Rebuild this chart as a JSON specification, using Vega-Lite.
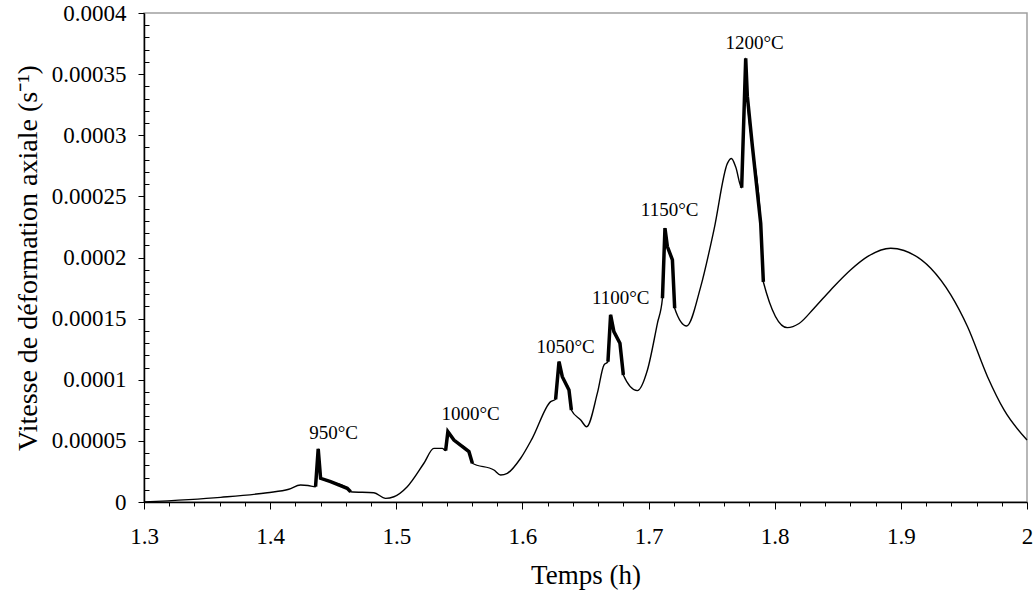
{
  "$schema": "https://vega.github.io/schema/vega-lite/v6.json",
  "width": 883,
  "height": 489,
  "autosize": {"type": "none"},
  "padding": {"left": 144, "top": 13, "right": 8, "bottom": 97},
  "background": "white",
  "config": {
    "view": {"stroke": "#a0a0a0", "strokeWidth": 1.5},
    "font": "Liberation Serif"
  },
  "datasets": {
    "curve": [
      {"t": 1.3, "v": 0.0},
      {"t": 1.3607, "v": 0.38e-5},
      {"t": 1.3977, "v": 0.76e-5},
      {"t": 1.4148, "v": 1.04e-5},
      {"t": 1.4241, "v": 1.39e-5},
      {"t": 1.43, "v": 1.35e-5},
      {"t": 1.436, "v": 1.25e-5},
      {"t": 1.4381, "v": 4.34e-5},
      {"t": 1.44, "v": 1.94e-5},
      {"t": 1.4479, "v": 1.66e-5},
      {"t": 1.4611, "v": 1.12e-5},
      {"t": 1.4638, "v": 0.84e-5},
      {"t": 1.4822, "v": 0.76e-5},
      {"t": 1.4915, "v": 0.30e-5},
      {"t": 1.4981, "v": 0.43e-5},
      {"t": 1.5087, "v": 1.25e-5},
      {"t": 1.5219, "v": 3.17e-5},
      {"t": 1.5298, "v": 4.39e-5},
      {"t": 1.5365, "v": 4.39e-5},
      {"t": 1.5391, "v": 4.20e-5},
      {"t": 1.5409, "v": 5.75e-5},
      {"t": 1.5457, "v": 5.07e-5},
      {"t": 1.5576, "v": 4.12e-5},
      {"t": 1.5603, "v": 3.17e-5},
      {"t": 1.5774, "v": 2.62e-5},
      {"t": 1.5827, "v": 2.21e-5},
      {"t": 1.588, "v": 2.35e-5},
      {"t": 1.5986, "v": 3.58e-5},
      {"t": 1.6078, "v": 5.21e-5},
      {"t": 1.6224, "v": 8.21e-5},
      {"t": 1.6263, "v": 8.40e-5},
      {"t": 1.629, "v": 11.48e-5},
      {"t": 1.6316, "v": 10.25e-5},
      {"t": 1.6369, "v": 9.17e-5},
      {"t": 1.6388, "v": 7.53e-5},
      {"t": 1.6462, "v": 6.71e-5},
      {"t": 1.6509, "v": 6.16e-5},
      {"t": 1.6594, "v": 8.9e-5},
      {"t": 1.6646, "v": 11.2e-5},
      {"t": 1.6678, "v": 11.48e-5},
      {"t": 1.6699, "v": 15.3e-5},
      {"t": 1.6725, "v": 13.94e-5},
      {"t": 1.6773, "v": 12.98e-5},
      {"t": 1.68, "v": 10.39e-5},
      {"t": 1.6911, "v": 9.11e-5},
      {"t": 1.6991, "v": 10.8e-5},
      {"t": 1.707, "v": 14.62e-5},
      {"t": 1.711, "v": 16.67e-5},
      {"t": 1.713, "v": 22.4e-5},
      {"t": 1.7149, "v": 20.9e-5},
      {"t": 1.7189, "v": 19.8e-5},
      {"t": 1.7207, "v": 15.85e-5},
      {"t": 1.7302, "v": 14.4e-5},
      {"t": 1.7413, "v": 17.6e-5},
      {"t": 1.7519, "v": 22.3e-5},
      {"t": 1.7625, "v": 27.7e-5},
      {"t": 1.7657, "v": 28.1e-5},
      {"t": 1.7691, "v": 27.4e-5},
      {"t": 1.7738, "v": 25.7e-5},
      {"t": 1.777, "v": 36.3e-5},
      {"t": 1.7783, "v": 33.2e-5},
      {"t": 1.7823, "v": 29.1e-5},
      {"t": 1.7889, "v": 22.8e-5},
      {"t": 1.791, "v": 18.0e-5},
      {"t": 1.81, "v": 14.26e-5},
      {"t": 1.8193, "v": 14.6e-5},
      {"t": 1.8312, "v": 15.85e-5},
      {"t": 1.8444, "v": 17.35e-5},
      {"t": 1.8603, "v": 19.0e-5},
      {"t": 1.8735, "v": 20.07e-5},
      {"t": 1.892, "v": 20.76e-5},
      {"t": 1.9025, "v": 20.57e-5},
      {"t": 1.9237, "v": 19.12e-5},
      {"t": 1.9396, "v": 16.94e-5},
      {"t": 1.9528, "v": 14.35e-5},
      {"t": 1.9687, "v": 10.25e-5},
      {"t": 1.9818, "v": 7.53e-5},
      {"t": 2.0, "v": 5.07e-5}
    ],
    "thick": [
      {"seg": "950", "t": 1.436, "v": 1.25e-5},
      {"seg": "950", "t": 1.4381, "v": 4.34e-5},
      {"seg": "950", "t": 1.44, "v": 1.94e-5},
      {"seg": "950", "t": 1.4479, "v": 1.66e-5},
      {"seg": "950", "t": 1.4611, "v": 1.12e-5},
      {"seg": "950", "t": 1.4638, "v": 0.84e-5},
      {"seg": "1000", "t": 1.5391, "v": 4.20e-5},
      {"seg": "1000", "t": 1.5409, "v": 5.75e-5},
      {"seg": "1000", "t": 1.5457, "v": 5.07e-5},
      {"seg": "1000", "t": 1.5576, "v": 4.12e-5},
      {"seg": "1000", "t": 1.5603, "v": 3.17e-5},
      {"seg": "1050", "t": 1.6263, "v": 8.40e-5},
      {"seg": "1050", "t": 1.629, "v": 11.48e-5},
      {"seg": "1050", "t": 1.6316, "v": 10.25e-5},
      {"seg": "1050", "t": 1.6369, "v": 9.17e-5},
      {"seg": "1050", "t": 1.6388, "v": 7.53e-5},
      {"seg": "1100", "t": 1.6678, "v": 11.48e-5},
      {"seg": "1100", "t": 1.6699, "v": 15.3e-5},
      {"seg": "1100", "t": 1.6725, "v": 13.94e-5},
      {"seg": "1100", "t": 1.6773, "v": 12.98e-5},
      {"seg": "1100", "t": 1.68, "v": 10.39e-5},
      {"seg": "1150", "t": 1.711, "v": 16.67e-5},
      {"seg": "1150", "t": 1.713, "v": 22.4e-5},
      {"seg": "1150", "t": 1.7149, "v": 20.9e-5},
      {"seg": "1150", "t": 1.7189, "v": 19.8e-5},
      {"seg": "1150", "t": 1.7207, "v": 15.85e-5},
      {"seg": "1200", "t": 1.7738, "v": 25.7e-5},
      {"seg": "1200", "t": 1.777, "v": 36.3e-5},
      {"seg": "1200", "t": 1.7783, "v": 33.2e-5},
      {"seg": "1200", "t": 1.7823, "v": 29.1e-5},
      {"seg": "1200", "t": 1.7889, "v": 22.8e-5},
      {"seg": "1200", "t": 1.791, "v": 18.0e-5}
    ],
    "labels": [
      {"label": "950°C", "t": 1.4503, "v": 5.65e-5},
      {"label": "1000°C", "t": 1.5589, "v": 7.2e-5},
      {"label": "1050°C", "t": 1.6342, "v": 12.68e-5},
      {"label": "1100°C", "t": 1.6779, "v": 16.69e-5},
      {"label": "1150°C", "t": 1.7167, "v": 23.9e-5},
      {"label": "1200°C", "t": 1.7841, "v": 37.56e-5}
    ]
  },
  "encoding": {
    "x": {
      "field": "t", "type": "quantitative",
      "scale": {"domain": [1.3, 2.0], "nice": false, "zero": false},
      "axis": {
        "title": "Temps (h)",
        "titleFont": "Liberation Serif", "titleFontSize": 27, "titleFontWeight": "normal", "titleColor": "black", "titlePadding": 14,
        "labelFont": "Liberation Serif", "labelFontSize": 23, "labelColor": "black", "labelPadding": 16,
        "values": [1.3, 1.32, 1.34, 1.36, 1.38, 1.4, 1.42, 1.44, 1.46, 1.48, 1.5, 1.52, 1.54, 1.56, 1.58, 1.6, 1.62, 1.64, 1.66, 1.68, 1.7, 1.72, 1.74, 1.76, 1.78, 1.8, 1.82, 1.84, 1.86, 1.88, 1.9, 1.92, 1.94, 1.96, 1.98, 2.0],
        "labelExpr": "abs(datum.value*10 - round(datum.value*10)) < 1e-6 ? format(datum.value, '.1~f') : ''",
        "tickSize": {"condition": {"test": "abs(datum.value*10 - round(datum.value*10)) < 1e-6", "value": 7}, "value": 4},
        "tickColor": "black", "domainColor": "black", "domainWidth": 1.5, "tickWidth": 1,
        "grid": false, "labelFlush": false, "labelOverlap": false
      }
    },
    "y": {
      "field": "v", "type": "quantitative",
      "scale": {"domain": [0, 0.0004], "nice": false},
      "axis": {
        "title": "Vitesse de déformation axiale (s⁻¹)",
        "titleFont": "Liberation Serif", "titleFontSize": 28, "titleFontWeight": "normal", "titleColor": "black", "titlePadding": 9,
        "labelFont": "Liberation Serif", "labelFontSize": 23, "labelColor": "black", "labelPadding": 12,
        "values": [0, 0.00001, 0.00002, 0.00003, 0.00004, 0.00005, 0.00006, 0.00007, 0.00008, 0.00009, 0.0001, 0.00011, 0.00012, 0.00013, 0.00014, 0.00015, 0.00016, 0.00017, 0.00018, 0.00019, 0.0002, 0.00021, 0.00022, 0.00023, 0.00024, 0.00025, 0.00026, 0.00027, 0.00028, 0.00029, 0.0003, 0.00031, 0.00032, 0.00033, 0.00034, 0.00035, 0.00036, 0.00037, 0.00038, 0.00039, 0.0004],
        "labelExpr": "abs(datum.value*20000 - round(datum.value*20000)) < 1e-6 ? format(datum.value, '.5~f') : ''",
        "tickSize": {"condition": {"test": "abs(datum.value*20000 - round(datum.value*20000)) < 1e-6", "value": 6}, "value": -5},
        "tickColor": "black", "domainColor": "black", "domainWidth": 1.5, "tickWidth": 1,
        "grid": false, "labelFlush": false, "labelOverlap": false
      }
    }
  },
  "layer": [
    {
      "data": {"name": "curve"},
      "mark": {"type": "line", "color": "black", "strokeWidth": 1.4, "interpolate": "monotone"}
    },
    {
      "data": {"name": "thick"},
      "mark": {"type": "line", "color": "black", "strokeWidth": 3.5, "strokeJoin": "miter"},
      "encoding": {"detail": {"field": "seg", "type": "nominal"}}
    },
    {
      "data": {"name": "labels"},
      "mark": {"type": "text", "font": "Liberation Serif", "fontSize": 19, "color": "black", "align": "center", "baseline": "middle"},
      "encoding": {"text": {"field": "label", "type": "nominal"}}
    }
  ]
}
